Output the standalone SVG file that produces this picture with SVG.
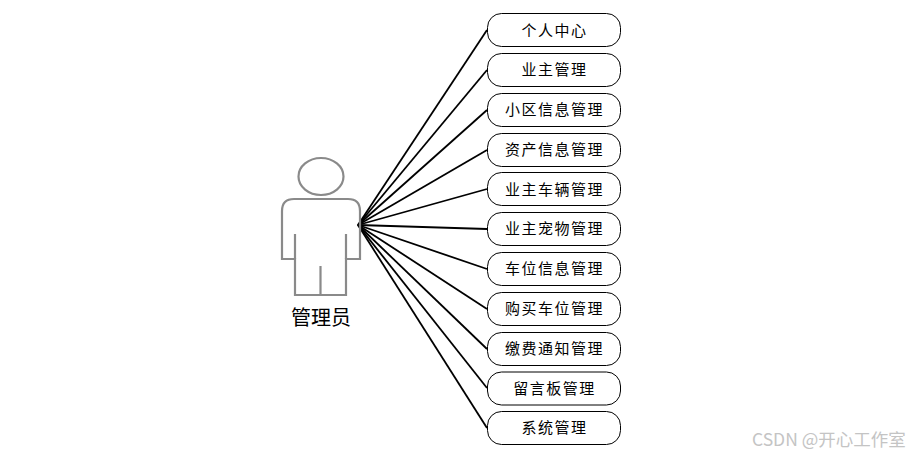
<svg xmlns="http://www.w3.org/2000/svg" width="910" height="455" viewBox="0 0 910 455">
<style>
.box{fill:#fff;stroke:#000;stroke-width:1}
.lbl{font-family:"Noto Sans CJK SC","Liberation Sans",sans-serif;font-size:15px;letter-spacing:1.5px;text-anchor:middle;fill:#000}
.conn{stroke:#000;stroke-width:1.8;fill:none}
.fig{fill:none;stroke:#8a8a8a;stroke-width:2.2}
.act{font-family:"Noto Sans CJK SC","Liberation Sans",sans-serif;font-size:20px;text-anchor:middle;fill:#000}
.wm{font-family:"Noto Sans CJK SC","Liberation Sans",sans-serif;font-size:17.500px;fill:#c4c4c4}
</style>
<rect width="910" height="455" fill="#fff"/>
<g id="connectors">
<line class="conn" x1="358" y1="225" x2="487" y2="30"/>
<line class="conn" x1="358" y1="225" x2="487" y2="70"/>
<line class="conn" x1="358" y1="225" x2="487" y2="110"/>
<line class="conn" x1="358" y1="225" x2="487" y2="150"/>
<line class="conn" x1="358" y1="225" x2="487" y2="189"/>
<line class="conn" x1="358" y1="225" x2="487" y2="229"/>
<line class="conn" x1="358" y1="225" x2="487" y2="269"/>
<line class="conn" x1="358" y1="225" x2="487" y2="309"/>
<line class="conn" x1="358" y1="225" x2="487" y2="349"/>
<line class="conn" x1="358" y1="225" x2="487" y2="388"/>
<line class="conn" x1="358" y1="225" x2="487" y2="428"/>
</g>
<g id="actor">
<ellipse class="fig" cx="321" cy="176.500" rx="22.500" ry="18.500"/>
<path class="fig" d="M294 199H348Q360 199 360 211V259H346V295H295V259H282V211Q282 199 294 199Z"/>
<path class="fig" d="M295 234V259M346 234V259M320.500 266V295"/>
<text class="act" x="321" y="325">管理员</text>
</g>
<g id="n1"><rect class="box" x="487.500" y="13.500" width="133" height="33" rx="14"/><text class="lbl" x="554.500" y="35.500">个人中心</text></g>
<g id="n2"><rect class="box" x="487.500" y="53.500" width="133" height="33" rx="14"/><text class="lbl" x="554.500" y="75">业主管理</text></g>
<g id="n3"><rect class="box" x="487.500" y="93.500" width="133" height="33" rx="14"/><text class="lbl" x="554.500" y="115">小区信息管理</text></g>
<g id="n4"><rect class="box" x="487.500" y="133.500" width="133" height="33" rx="14"/><text class="lbl" x="554.500" y="155">资产信息管理</text></g>
<g id="n5"><rect class="box" x="487.500" y="172.500" width="133" height="33" rx="14"/><text class="lbl" x="554.500" y="194.500">业主车辆管理</text></g>
<g id="n6"><rect class="box" x="487.500" y="212.500" width="133" height="33" rx="14"/><text class="lbl" x="554.500" y="234">业主宠物管理</text></g>
<g id="n7"><rect class="box" x="487.500" y="252.500" width="133" height="33" rx="14"/><text class="lbl" x="554.500" y="274">车位信息管理</text></g>
<g id="n8"><rect class="box" x="487.500" y="292.500" width="133" height="33" rx="14"/><text class="lbl" x="554.500" y="314">购买车位管理</text></g>
<g id="n9"><rect class="box" x="487.500" y="332.500" width="133" height="33" rx="14"/><text class="lbl" x="554.500" y="354">缴费通知管理</text></g>
<g id="n10"><rect class="box" x="487.500" y="372" width="133" height="33" rx="14"/><text class="lbl" x="554.500" y="394">留言板管理</text></g>
<g id="n11"><rect class="box" x="487.500" y="411.500" width="133" height="33" rx="14"/><text class="lbl" x="554.500" y="433">系统管理</text></g>
<text class="wm" x="752" y="446">CSDN @开心工作室</text>
</svg>
